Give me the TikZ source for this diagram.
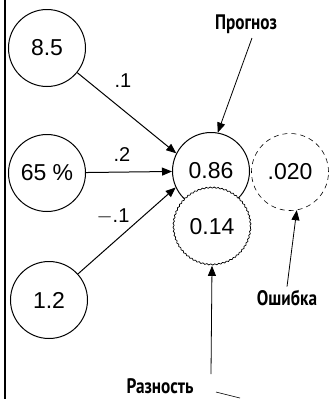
\documentclass[tikz,border=0pt]{standalone}
\usepackage{fontspec}
\setmainfont{Liberation Sans}
\newfontfamily\notefont{PT Sans}
\usetikzlibrary{arrows.meta, positioning, decorations.pathmorphing}
\newcommand{\narrow}[1]{\scalebox{0.82}[1]{#1}}

\begin{document}
\begin{tikzpicture}[
            x = 1pt, y = -1pt,
            neuron/.style = {
                circle,
                draw         = black,
                fill         = white,
                line width   = 1pt,
                minimum size = 77pt,
                inner sep    = 0pt,
                font         = \fontsize{23}{27}\selectfont
            },
            errnode/.style = {
                neuron,
                line width   = 0.6pt,
                dash pattern = on 5pt off 4pt
            },
            diffnode/.style = {
                neuron,
                line width   = 0.7pt,
                decorate,
                decoration   = {snake, amplitude = 0.6pt, segment length = 4pt}
            },
            weight/.style = {font = \fontsize{20}{24}\selectfont},
            note/.style   = {font = \notefont\bfseries\fontsize{21}{24}\selectfont},
            flow/.style   = {-{Triangle[length=10pt, width=8pt]}, line width = 1pt}
        ]

            \useasboundingbox (0,0) rectangle (331,399);
            \draw[line width = 2pt] (5,0) -- (5,399);

            \node[neuron] (in1) at (47,48)  {8.5};
            \node[neuron] (in2) at (47,173) {65 \%};
            \node[neuron] (in3) at (49,300) {1.2};

            \node[neuron]   (pred) at (211,171) {0.86};
            \node[diffnode] (diff) at (212,227) {0.14};
            \node[errnode]  (err)  at (290,172) {.020};

            \node[weight] at (123,81)  {.1};
            \node[weight] at (122,155) {.2};
            \node[weight] at (113,216) {$-$.1};

            \draw[flow] (in1) -- (pred.153);
            \draw[flow] (in2) -- (pred);
            \draw[flow] (in3.42) -- (pred.205);

            \node[note] (prog) at (246,24)  {\narrow{Прогноз}};
            \node[note] (osh)  at (287,298) {\narrow{Ошибка}};
            \node[note] (razn) at (160,386) {\narrow{Разность}};

            \draw[flow, line width = 0.8pt] (252,38) -- (pred.80);
            \draw[flow, line width = 0.8pt] (osh.north) -- (err.-80);
            \draw[flow, line width = 0.8pt] (211,374) -- (diff.south);
            \coordinate (cut) at (240,398);
            \draw[line width = 0.6pt] (216,392) -- (cut);
        \end{tikzpicture}
\end{document}
